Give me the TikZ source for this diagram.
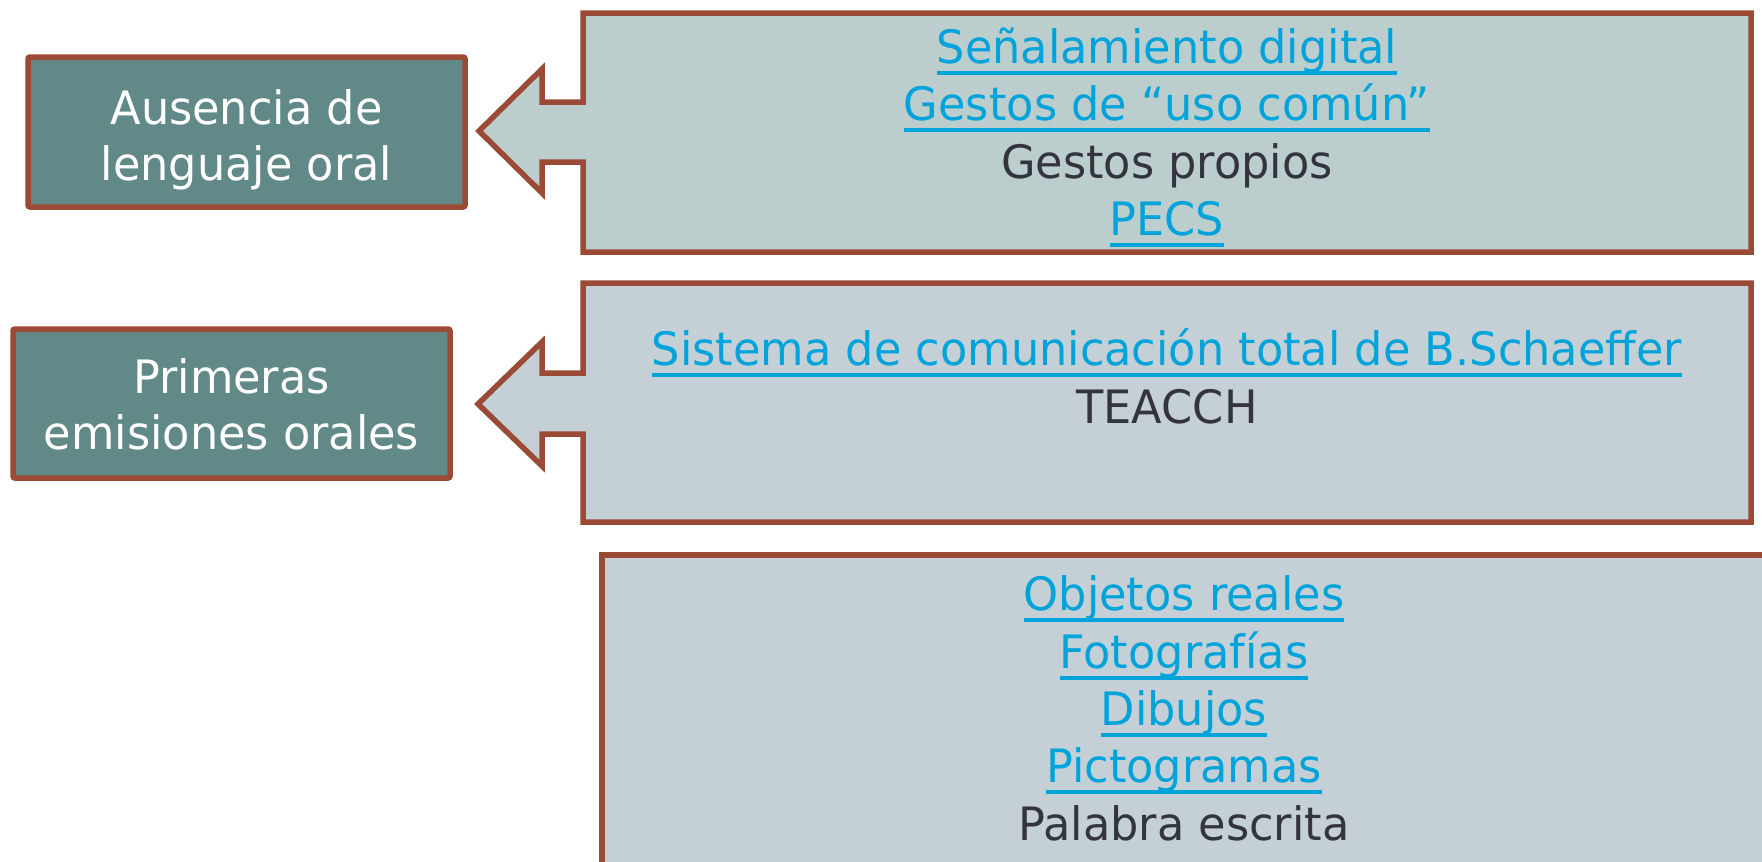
\documentclass[tikz,border=0pt]{standalone}
\usepackage{fontspec}
\setmainfont[FakeStretch=0.97]{DejaVu Sans}
\definecolor{edgec}{HTML}{9B4A36}
\definecolor{tealfill}{HTML}{608987}
\definecolor{greenfill}{HTML}{BBCECD}
\definecolor{greyfill}{HTML}{C5D0D6}
\definecolor{linkc}{HTML}{00A3DA}
\definecolor{darktext}{HTML}{34343E}
\newcommand\lnk[1]{{\color{linkc}\setbox0\hbox{#1}\rlap{\rule[-12pt]{\wd0}{4pt}}\box0}}
\tikzset{
  lbox/.style={draw=edgec, line width=5.5pt, fill=tealfill, rounded corners=2pt, inner sep=0pt},
  callout/.style={draw=edgec, line width=5.5pt, line join=miter},
  ln/.style={anchor=base, inner sep=0pt, font=\fontsize{46}{57}\selectfont, text=darktext},
  wt/.style={ln, text=white},
}
\begin{document}
\begin{tikzpicture}[x=1pt, y=-1pt]
\useasboundingbox (0,0) rectangle (1762,862);
\fill[white] (0,0) rectangle (1762,862);
\clip (0,0) rectangle (1762,862);

% left boxes
\node[lbox, minimum width=437pt, minimum height=150pt] (b1) at (246.5,132) {};
\node[wt] (b1a) at (246.5,124) {Ausencia de};
\node[wt] (b1b) at (246.5,180) {lenguaje oral};

\node[lbox, minimum width=437pt, minimum height=149pt] (b2) at (231.5,403.5) {};
\node[wt] (b2a) at (231.5,393) {Primeras};
\node[wt] (b2b) at (231.5,449) {emisiones orales};

% callout 1
\coordinate (tip1) at (479,131);
\draw[callout, fill=greenfill] (583,13) -- (1751,13) -- (1751,252) -- (583,252) -- (583,162) -- (542,162) -- (542,193) -- (tip1) -- (542,69) -- (542,102) -- (583,102) -- cycle;
\node[ln] (c1a) at (1167,63) {\lnk{Señalamiento digital}};
\node[ln] (c1b) at (1167,120) {\lnk{Gestos de “uso común”}};
\node[ln] (c1c) at (1167,178) {Gestos propios};
\node[ln] (c1d) at (1167,235) {\lnk{PECS}};

% callout 2
\coordinate (tip2) at (478,404);
\draw[callout, fill=greyfill] (583,283) -- (1751,283) -- (1751,522) -- (583,522) -- (583,434) -- (542,434) -- (542,466) -- (tip2) -- (542,342) -- (542,373) -- (583,373) -- cycle;
\node[ln] (c2a) at (1167,365) {\lnk{Sistema de comunicación total de B.Schaeffer}};
\node[ln] (c2b) at (1167,423) {TEACCH};

% box 3
\draw[callout, fill=greyfill] (602,555) rectangle (1768,890);
\node[ln] (d1) at (1184,610) {\lnk{Objetos reales}};
\node[ln] (d2) at (1184,668) {\lnk{Fotografías}};
\node[ln] (d3) at (1184,725) {\lnk{Dibujos}};
\node[ln] (d4) at (1184,782) {\lnk{Pictogramas}};
\node[ln] (d5) at (1184,840) {Palabra escrita};
\end{tikzpicture}
\end{document}
